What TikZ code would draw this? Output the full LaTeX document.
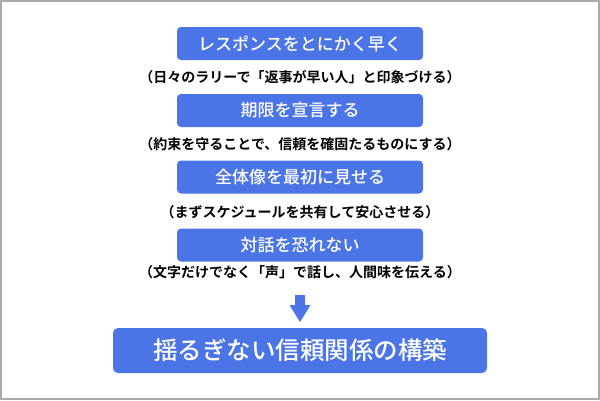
\documentclass[tikz,border=0pt]{standalone}
\usepackage{fontspec}
\newfontfamily\jp{Noto Sans CJK JP Medium}
\newfontfamily\jpb{Noto Sans CJK JP Bold}
\definecolor{bx}{HTML}{4B75E6}
\definecolor{frm}{HTML}{AAAAAA}
\begin{document}
\begin{tikzpicture}[x=1pt,y=-1pt,
  stepbox/.style={fill=bx,rounded corners=4pt,minimum width=246pt,minimum height=33pt,inner sep=0pt,text=white,font=\jp\fontsize{17}{17}\selectfont},
  finalbox/.style={fill=bx,rounded corners=5pt,minimum width=374pt,minimum height=45pt,inner sep=0pt,text=white,font=\jp\fontsize{24.5}{24.5}\selectfont},
  note/.style={inner sep=0pt,text=black,font=\jpb\fontsize{14}{14}\selectfont}]
\fill[white] (0,0) rectangle (600,400);
\draw[frm,line width=2pt] (1,1) rectangle (599,399);
\node[stepbox] (b1) at (300,43.5) {レスポンスをとにかく早く};
\node[note] (n1) at (300,77) {（日々のラリーで「返事が早い人」と印象づける）};
\node[stepbox] (b2) at (300,110.5) {期限を宣言する};
\node[note] (n2) at (300,144) {（約束を守ることで、信頼を確固たるものにする）};
\node[stepbox] (b3) at (300,177) {全体像を最初に見せる};
\node[note] (n3) at (300,212) {（まずスケジュールを共有して安心させる）};
\node[stepbox] (b4) at (300,245) {対話を恐れない};
\node[note] (n4) at (300,272) {（文字だけでなく「声」で話し、人間味を伝える）};
\node[finalbox] (f) at (300,350.5) {揺るぎない信頼関係の構築};
\coordinate (a1) at (300,295);
\coordinate (a2) at (300,322);
\fill[bx] (295,295) -- (305,295) -- (305,305) -- (310.5,305) -- (300,322) -- (289.5,305) -- (295,305) -- cycle;
\end{tikzpicture}
\end{document}
